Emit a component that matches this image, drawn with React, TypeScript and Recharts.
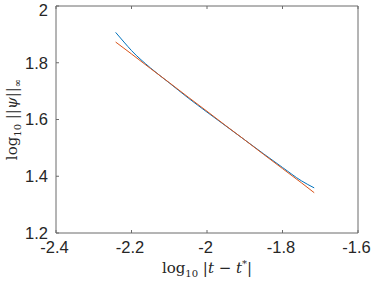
import React from 'react'
import { LineChart, Line, XAxis, YAxis } from 'recharts'

// log10 |t - t*|
const logT = [-2.242, -2.22, -2.2, -2.15, -2.1, -2.05, -2.0, -1.95, -1.9, -1.85, -1.8, -1.75, -1.716]
// log10 ||psi||_inf (computed)
const logPsi = [1.907, 1.873, 1.843, 1.782, 1.729, 1.676, 1.626, 1.577, 1.528, 1.479, 1.431, 1.384, 1.359]
// straight-line fit
const logFit = [1.873, 1.851, 1.831, 1.780, 1.730, 1.679, 1.629, 1.578, 1.528, 1.477, 1.427, 1.377, 1.342]

const xTicks = [-2.4, -2.2, -2, -1.8, -1.6]
const yTicks = [1.2, 1.4, 1.6, 1.8, 2]

const chartData = logT.map((x, i) => ({ x, psi: logPsi[i], fit: logFit[i] }))

const AXIS = '#6b6b6b'
const TEXT = '#262626'
const tickFont = { fill: TEXT, fontSize: 16.5, fontFamily: 'Liberation Sans, Arial, sans-serif' }
const serif = 'DejaVu Serif, Liberation Serif, serif'

const XLabel = ({ viewBox }: any) => {
  const cx = viewBox.x + viewBox.width / 2
  const y = viewBox.y + viewBox.height - 8
  return (
    <text x={cx} y={y} textAnchor="middle" fontFamily={serif} fontSize={15} fill={TEXT}>
      log<tspan fontSize={10} dy={4}>10</tspan>
      <tspan dy={-4}> |</tspan>
      <tspan fontStyle="italic">t</tspan> − <tspan fontStyle="italic">t</tspan>
      <tspan fontSize={10} dy={-6}>*</tspan>
      <tspan dy={6}>|</tspan>
    </text>
  )
}

const YLabel = ({ viewBox }: any) => {
  const cx = 17
  const cy = viewBox.y + viewBox.height / 2
  return (
    <text
      x={cx}
      y={cy}
      textAnchor="middle"
      transform={`rotate(-90, ${cx}, ${cy})`}
      fontFamily={serif}
      fontSize={15}
      fill={TEXT}
    >
      log<tspan fontSize={10} dy={4}>10</tspan>
      <tspan dy={-4}> ||</tspan>
      <tspan fontStyle="italic">ψ</tspan>||
      <tspan fontSize={10} dy={4}>∞</tspan>
    </text>
  )
}

const NoTick = () => <g />

export default function App() {
  return (
    <div style={{ position: 'absolute', left: 0, top: 0, width: 374, height: 281, background: '#fff' }}>
      <LineChart
        width={374}
        height={281}
        data={chartData}
        margin={{ top: 5, right: 15, bottom: 0, left: 0 }}
      >
        <XAxis
          dataKey="x"
          type="number"
          domain={[-2.4, -1.6]}
          ticks={xTicks}
          height={48}
          stroke={AXIS}
          tickSize={-3}
          tickMargin={11}
          tick={{ ...tickFont, dx: -1.5 }}
          label={<XLabel />}
        />
        <XAxis
          xAxisId="top"
          dataKey="x"
          type="number"
          orientation="top"
          domain={[-2.4, -1.6]}
          ticks={xTicks}
          height={1}
          stroke={AXIS}
          tickSize={-3}
          tick={NoTick}
        />
        <YAxis
          type="number"
          domain={[1.2, 2]}
          ticks={yTicks}
          width={56}
          stroke={AXIS}
          tickSize={-3}
          tickMargin={11}
          tick={tickFont}
          label={<YLabel />}
        />
        <YAxis
          yAxisId="right"
          type="number"
          orientation="right"
          domain={[1.2, 2]}
          ticks={yTicks}
          width={1}
          stroke={AXIS}
          tickSize={-3}
          tick={NoTick}
        />
        <Line
          type="monotone"
          dataKey="psi"
          stroke="#0072BD"
          strokeWidth={1}
          dot={false}
          isAnimationActive={false}
        />
        <Line
          type="linear"
          dataKey="fit"
          stroke="#D95319"
          strokeWidth={1}
          dot={false}
          isAnimationActive={false}
        />
      </LineChart>
    </div>
  )
}
